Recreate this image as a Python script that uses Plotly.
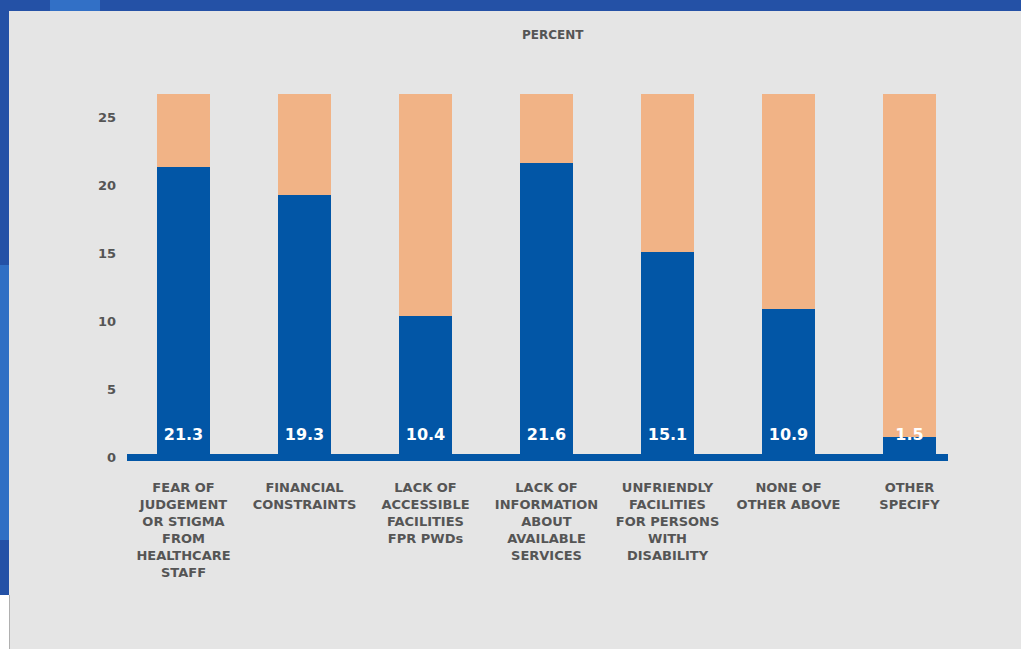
import plotly.graph_objects as go

categories = [
    "FEAR OF<br>JUDGEMENT<br>OR STIGMA<br>FROM<br>HEALTHCARE<br>STAFF",
    "FINANCIAL<br>CONSTRAINTS",
    "LACK OF<br>ACCESSIBLE<br>FACILITIES<br>FPR PWDs",
    "LACK OF<br>INFORMATION<br>ABOUT<br>AVAILABLE<br>SERVICES",
    "UNFRIENDLY<br>FACILITIES<br>FOR PERSONS<br>WITH<br>DISABILITY",
    "NONE OF<br>OTHER ABOVE",
    "OTHER<br>SPECIFY",
]
percent = [21.3, 19.3, 10.4, 21.6, 15.1, 10.9, 1.5]
full_scale = [26.7] * 7
tick_vals = [0, 5, 10, 15, 20, 25]

BLUE = "#0256a6"
ORANGE = "#f1b386"
TEXT = "#555555"
FONT = "DejaVu Sans"

W, H = 1021, 649
ML, MR, MT, MB = 127, 73, 60, 179
PW = W - ML - MR
PH = H - MT - MB

def px(x):
    return (x - ML) / PW

def py(y):
    return (H - MB - y) / PH

x_idx = list(range(len(categories)))

fig = go.Figure()
fig.add_trace(go.Bar(x=x_idx, y=full_scale, marker=dict(color=ORANGE, line=dict(width=0)),
                     width=0.44, hoverinfo="skip", showlegend=False))
fig.add_trace(go.Bar(x=x_idx, y=percent, marker=dict(color=BLUE, line=dict(width=0)),
                     width=0.44, showlegend=False))
fig.add_trace(go.Scatter(x=x_idx, y=[1.55] * len(percent), mode="text",
                         text=[f"{v}" for v in percent],
                         textfont=dict(color="white", size=16, family=FONT, weight="bold"),
                         hoverinfo="skip", showlegend=False))

shapes = [
    dict(type="rect", xref="paper", yref="paper", x0=px(0), x1=px(W), y0=py(11), y1=py(0),
         fillcolor="#2451a6", line=dict(width=0), layer="below"),
    dict(type="rect", xref="paper", yref="paper", x0=px(0), x1=px(9), y0=py(595), y1=py(0),
         fillcolor="#2451a6", line=dict(width=0), layer="below"),
    dict(type="rect", xref="paper", yref="paper", x0=px(0), x1=px(9), y0=py(540), y1=py(265),
         fillcolor="#306fc4", line=dict(width=0), layer="below"),
    dict(type="rect", xref="paper", yref="paper", x0=px(50), x1=px(100), y0=py(11), y1=py(0),
         fillcolor="#3270c6", line=dict(width=0), layer="below"),
    dict(type="rect", xref="paper", yref="paper", x0=px(0), x1=px(9), y0=py(H), y1=py(595),
         fillcolor="white", line=dict(width=0), layer="below"),
    dict(type="line", xref="paper", yref="paper", x0=px(9.5), x1=px(9.5), y0=py(H), y1=py(595),
         line=dict(color="#b0b0b0", width=1), layer="below"),
]

fig.update_layout(
    width=W, height=H,
    margin=dict(l=ML, r=MR, t=MT, b=MB),
    paper_bgcolor="#e5e5e5", plot_bgcolor="#e5e5e5",
    barmode="overlay", bargap=0,
    shapes=shapes,
    font=dict(family=FONT, color=TEXT),
    annotations=[dict(text="<b>PERCENT</b>", xref="paper", yref="paper",
                      x=px(553), y=py(35), xanchor="center", yanchor="middle",
                      showarrow=False, font=dict(size=12, color=TEXT, family=FONT))],
    xaxis=dict(range=[-0.467, 6.318], tickmode="array", tickvals=x_idx, ticktext=categories,
               showgrid=False, zeroline=False, showline=False, ticks="",
               tickfont=dict(size=13, color=TEXT, family=FONT, weight="bold"),
               ticklabelstandoff=8, tickangle=0),
    yaxis=dict(range=[-0.956, 29.19], tickmode="array", tickvals=tick_vals,
               showgrid=False, zeroline=True, zerolinecolor=BLUE, zerolinewidth=7,
               showline=False, ticks="",
               tickfont=dict(size=13, color=TEXT, family=FONT, weight="bold"),
               ticklabelstandoff=10),
)

fig.write_html("out.html", config={"displayModeBar": False},
               post_script="document.body.style.margin='0';document.body.style.padding='0';")
